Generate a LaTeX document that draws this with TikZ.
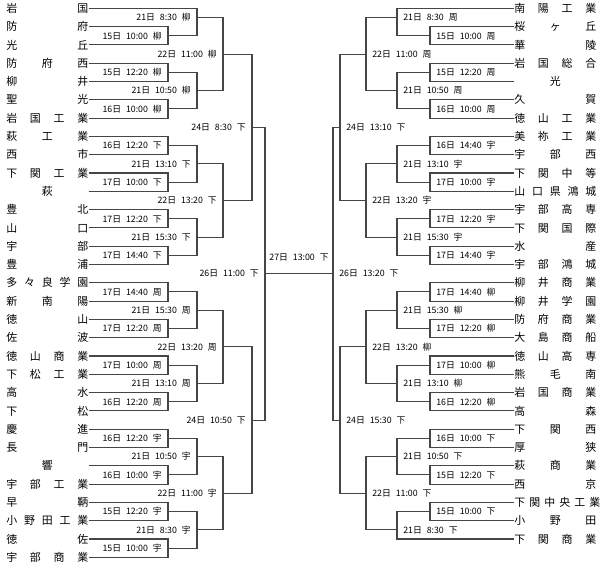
\documentclass[tikz,border=0pt]{standalone}
\usepackage{fontspec}
\usepackage{xcolor}
\usepackage{tikz}
\setmainfont{Noto Sans CJK JP}
\newfontfamily\teamfont{Noto Sans CJK JP}
\newfontfamily\gamefont[WordSpace=2.5]{Noto Sans CJK JP}
\definecolor{bracketgray}{RGB}{70,70,70}
\newcommand{\rowy}[1]{{8.3+18.3*(#1-1)}}
\newcommand{\tn}[1]{\makebox[61.5pt][s]{#1}}

\begin{document}
\begin{tikzpicture}[
    x=0.75pt, y=-0.75pt,
    team/.style={anchor=west,inner sep=0pt,font=\teamfont\fontsize{8.2}{9}\selectfont,text height=6.8pt,text depth=0.6pt},
    game/.style={inner xsep=4.5pt,inner ysep=0pt,font=\gamefont\fontsize{6.6}{8}\selectfont,text height=5.5pt,text depth=0.5pt},
    lblL/.style={game,anchor=east},
    lblR/.style={game,anchor=west},
    bracket/.style={draw=bracketgray,line width=0.8pt}
]
\useasboundingbox (0,0) rectangle (600,569);

% left block
\node[team] (lt1) at (6,\rowy{1}) {\tn{岩 国}};
\node[team] (lt2) at (6,\rowy{2}) {\tn{防 府}};
\node[team] (lt3) at (6,\rowy{3}) {\tn{光 丘}};
\node[team] (lt4) at (6,\rowy{4}) {\tn{防 府 西}};
\node[team] (lt5) at (6,\rowy{5}) {\tn{柳 井}};
\node[team] (lt6) at (6,\rowy{6}) {\tn{聖 光}};
\node[team] (lt7) at (6,\rowy{7}) {\tn{岩 国 工 業}};
\node[team] (lt8) at (6,\rowy{8}) {\tn{萩 工 業}};
\node[team] (lt9) at (6,\rowy{9}) {\tn{西 市}};
\node[team] (lt10) at (6,\rowy{10}) {\tn{下 関 工 業}};
\node[team] (lt11) at (6,\rowy{11}) {\tn{\hfill 萩\hfill}};
\node[team] (lt12) at (6,\rowy{12}) {\tn{豊 北}};
\node[team] (lt13) at (6,\rowy{13}) {\tn{山 口}};
\node[team] (lt14) at (6,\rowy{14}) {\tn{宇 部}};
\node[team] (lt15) at (6,\rowy{15}) {\tn{豊 浦}};
\node[team] (lt16) at (6,\rowy{16}) {\tn{多 々 良 学 園}};
\node[team] (lt17) at (6,\rowy{17}) {\tn{新 南 陽}};
\node[team] (lt18) at (6,\rowy{18}) {\tn{徳 山}};
\node[team] (lt19) at (6,\rowy{19}) {\tn{佐 波}};
\node[team] (lt20) at (6,\rowy{20}) {\tn{徳 山 商 業}};
\node[team] (lt21) at (6,\rowy{21}) {\tn{下 松 工 業}};
\node[team] (lt22) at (6,\rowy{22}) {\tn{高 水}};
\node[team] (lt23) at (6,\rowy{23}) {\tn{下 松}};
\node[team] (lt24) at (6,\rowy{24}) {\tn{慶 進}};
\node[team] (lt25) at (6,\rowy{25}) {\tn{長 門}};
\node[team] (lt26) at (6,\rowy{26}) {\tn{\hfill 響\hfill}};
\node[team] (lt27) at (6,\rowy{27}) {\tn{宇 部 工 業}};
\node[team] (lt28) at (6,\rowy{28}) {\tn{早 鞆}};
\node[team] (lt29) at (6,\rowy{29}) {\tn{小 野 田 工 業}};
\node[team] (lt30) at (6,\rowy{30}) {\tn{徳 佐}};
\node[team] (lt31) at (6,\rowy{31}) {\tn{宇 部 商 業}};

% right block
\node[team] (rt1) at (514,\rowy{1}) {\tn{南 陽 工 業}};
\node[team] (rt2) at (514,\rowy{2}) {\tn{桜 ヶ 丘}};
\node[team] (rt3) at (514,\rowy{3}) {\tn{華 陵}};
\node[team] (rt4) at (514,\rowy{4}) {\tn{岩 国 総 合}};
\node[team] (rt5) at (514,\rowy{5}) {\tn{\hfill 光\hfill}};
\node[team] (rt6) at (514,\rowy{6}) {\tn{久 賀}};
\node[team] (rt7) at (514,\rowy{7}) {\tn{徳 山 工 業}};
\node[team] (rt8) at (514,\rowy{8}) {\tn{美 祢 工 業}};
\node[team] (rt9) at (514,\rowy{9}) {\tn{宇 部 西}};
\node[team] (rt10) at (514,\rowy{10}) {\tn{下 関 中 等}};
\node[team] (rt11) at (514,\rowy{11}) {\tn{山 口 県 鴻 城}};
\node[team] (rt12) at (514,\rowy{12}) {\tn{宇 部 高 専}};
\node[team] (rt13) at (514,\rowy{13}) {\tn{下 関 国 際}};
\node[team] (rt14) at (514,\rowy{14}) {\tn{水 産}};
\node[team] (rt15) at (514,\rowy{15}) {\tn{宇 部 鴻 城}};
\node[team] (rt16) at (514,\rowy{16}) {\tn{柳 井 商 業}};
\node[team] (rt17) at (514,\rowy{17}) {\tn{柳 井 学 園}};
\node[team] (rt18) at (514,\rowy{18}) {\tn{防 府 商 業}};
\node[team] (rt19) at (514,\rowy{19}) {\tn{大 島 商 船}};
\node[team] (rt20) at (514,\rowy{20}) {\tn{徳 山 高 専}};
\node[team] (rt21) at (514,\rowy{21}) {\tn{熊 毛 南}};
\node[team] (rt22) at (514,\rowy{22}) {\tn{岩 国 商 業}};
\node[team] (rt23) at (514,\rowy{23}) {\tn{高 森}};
\node[team] (rt24) at (514,\rowy{24}) {\tn{下 関 西}};
\node[team] (rt25) at (514,\rowy{25}) {\tn{厚 狭}};
\node[team] (rt26) at (514,\rowy{26}) {\tn{萩 商 業}};
\node[team] (rt27) at (514,\rowy{27}) {\tn{西 京}};
\node[team] (rt28) at (514,\rowy{28}) {\tn{下 関 中 央 工 業}};
\node[team] (rt29) at (514,\rowy{29}) {\tn{小 野 田}};
\node[team] (rt30) at (514,\rowy{30}) {\tn{下 関 商 業}};

% left games
\node[lblL] (lm1) at (197,\rowy{1.5}) {21日 8:30 柳};
\node[lblL] (lm2) at (168,\rowy{2.5}) {15日 10:00 柳};
\node[lblL] (lm3) at (223,\rowy{3.5}) {22日 11:00 柳};
\node[lblL] (lm4) at (168,\rowy{4.5}) {15日 12:20 柳};
\node[lblL] (lm5) at (197,\rowy{5.5}) {21日 10:50 柳};
\node[lblL] (lm6) at (168,\rowy{6.5}) {16日 10:00 柳};
\node[lblL] (lm7) at (252,\rowy{7.5}) {24日 8:30 下};
\node[lblL] (lm8) at (168,\rowy{8.5}) {16日 12:20 下};
\node[lblL] (lm9) at (197,\rowy{9.5}) {21日 13:10 下};
\node[lblL] (lm10) at (168,\rowy{10.5}) {17日 10:00 下};
\node[lblL] (lm11) at (223,\rowy{11.5}) {22日 13:20 下};
\node[lblL] (lm12) at (168,\rowy{12.5}) {17日 12:20 下};
\node[lblL] (lm13) at (197,\rowy{13.5}) {21日 15:30 下};
\node[lblL] (lm14) at (168,\rowy{14.5}) {17日 14:40 下};
\node[lblL] (lm15) at (265,\rowy{15.5}) {26日 11:00 下};
\node[lblL] (lm16) at (168,\rowy{16.5}) {17日 14:40 周};
\node[lblL] (lm17) at (197,\rowy{17.5}) {21日 15:30 周};
\node[lblL] (lm18) at (168,\rowy{18.5}) {17日 12:20 周};
\node[lblL] (lm19) at (223,\rowy{19.5}) {22日 13:20 周};
\node[lblL] (lm20) at (168,\rowy{20.5}) {17日 10:00 周};
\node[lblL] (lm21) at (197,\rowy{21.5}) {21日 13:10 周};
\node[lblL] (lm22) at (168,\rowy{22.5}) {16日 12:20 周};
\node[lblL] (lm23) at (252,\rowy{23.5}) {24日 10:50 下};
\node[lblL] (lm24) at (168,\rowy{24.5}) {16日 12:20 宇};
\node[lblL] (lm25) at (197,\rowy{25.5}) {21日 10:50 宇};
\node[lblL] (lm26) at (168,\rowy{26.5}) {16日 10:00 宇};
\node[lblL] (lm27) at (223,\rowy{27.5}) {22日 11:00 宇};
\node[lblL] (lm28) at (168,\rowy{28.5}) {15日 12:20 宇};
\node[lblL] (lm29) at (197,\rowy{29.5}) {21日 8:30 宇};
\node[lblL] (lm30) at (168,\rowy{30.5}) {15日 10:00 宇};

% right games
\node[lblR] (rm1) at (397,\rowy{1.5}) {21日 8:30 周};
\node[lblR] (rm2) at (430,\rowy{2.5}) {15日 10:00 周};
\node[lblR] (rm3) at (366,\rowy{3.5}) {22日 11:00 周};
\node[lblR] (rm4) at (430,\rowy{4.5}) {15日 12:20 周};
\node[lblR] (rm5) at (397,\rowy{5.5}) {21日 10:50 周};
\node[lblR] (rm6) at (430,\rowy{6.5}) {16日 10:00 周};
\node[lblR] (rm7) at (340,\rowy{7.5}) {24日 13:10 下};
\node[lblR] (rm8) at (430,\rowy{8.5}) {16日 14:40 宇};
\node[lblR] (rm9) at (397,\rowy{9.5}) {21日 13:10 宇};
\node[lblR] (rm10) at (430,\rowy{10.5}) {17日 10:00 宇};
\node[lblR] (rm11) at (366,\rowy{11.5}) {22日 13:20 宇};
\node[lblR] (rm12) at (430,\rowy{12.5}) {17日 12:20 宇};
\node[lblR] (rm13) at (397,\rowy{13.5}) {21日 15:30 宇};
\node[lblR] (rm14) at (430,\rowy{14.5}) {17日 14:40 宇};
\node[lblR] (rm15) at (333,\rowy{15.5}) {26日 13:20 下};
\node[lblR] (rm16) at (430,\rowy{16.5}) {17日 14:40 柳};
\node[lblR] (rm17) at (397,\rowy{17.5}) {21日 15:30 柳};
\node[lblR] (rm18) at (430,\rowy{18.5}) {17日 12:20 柳};
\node[lblR] (rm19) at (366,\rowy{19.5}) {22日 13:20 柳};
\node[lblR] (rm20) at (430,\rowy{20.5}) {17日 10:00 柳};
\node[lblR] (rm21) at (397,\rowy{21.5}) {21日 13:10 柳};
\node[lblR] (rm22) at (430,\rowy{22.5}) {16日 12:20 柳};
\node[lblR] (rm23) at (340,\rowy{23.5}) {24日 15:30 下};
\node[lblR] (rm24) at (430,\rowy{24.5}) {16日 10:00 下};
\node[lblR] (rm25) at (397,\rowy{25.5}) {21日 10:50 下};
\node[lblR] (rm26) at (430,\rowy{26.5}) {15日 12:20 下};
\node[lblR] (rm27) at (366,\rowy{27.5}) {22日 11:00 下};
\node[lblR] (rm28) at (430,\rowy{28.5}) {15日 10:00 下};
\node[lblR] (rm29) at (397,\rowy{29.5}) {21日 8:30 下};

% final
\node[game] (fin) at (299,\rowy{14.6}) {27日 13:00 下};

% left bracket
\draw[bracket] (lt2.east) -| (lm2.east) (lt3.east) -| (lm2.east);
\draw[bracket] (lt1.east) -| (lm1.east) (lm2.east) -| (lm1.east);
\draw[bracket] (lt4.east) -| (lm4.east) (lt5.east) -| (lm4.east);
\draw[bracket] (lt6.east) -| (lm6.east) (lt7.east) -| (lm6.east);
\draw[bracket] (lm4.east) -| (lm5.east) (lm6.east) -| (lm5.east);
\draw[bracket] (lm1.east) -| (lm3.east) (lm5.east) -| (lm3.east);
\draw[bracket] (lt8.east) -| (lm8.east) (lt9.east) -| (lm8.east);
\draw[bracket] (lt10.east) -| (lm10.east) (lt11.east) -| (lm10.east);
\draw[bracket] (lm8.east) -| (lm9.east) (lm10.east) -| (lm9.east);
\draw[bracket] (lt12.east) -| (lm12.east) (lt13.east) -| (lm12.east);
\draw[bracket] (lt14.east) -| (lm14.east) (lt15.east) -| (lm14.east);
\draw[bracket] (lm12.east) -| (lm13.east) (lm14.east) -| (lm13.east);
\draw[bracket] (lm9.east) -| (lm11.east) (lm13.east) -| (lm11.east);
\draw[bracket] (lm3.east) -| (lm7.east) (lm11.east) -| (lm7.east);
\draw[bracket] (lt16.east) -| (lm16.east) (lt17.east) -| (lm16.east);
\draw[bracket] (lt18.east) -| (lm18.east) (lt19.east) -| (lm18.east);
\draw[bracket] (lm16.east) -| (lm17.east) (lm18.east) -| (lm17.east);
\draw[bracket] (lt20.east) -| (lm20.east) (lt21.east) -| (lm20.east);
\draw[bracket] (lt22.east) -| (lm22.east) (lt23.east) -| (lm22.east);
\draw[bracket] (lm20.east) -| (lm21.east) (lm22.east) -| (lm21.east);
\draw[bracket] (lm17.east) -| (lm19.east) (lm21.east) -| (lm19.east);
\draw[bracket] (lt24.east) -| (lm24.east) (lt25.east) -| (lm24.east);
\draw[bracket] (lt26.east) -| (lm26.east) (lt27.east) -| (lm26.east);
\draw[bracket] (lm24.east) -| (lm25.east) (lm26.east) -| (lm25.east);
\draw[bracket] (lt28.east) -| (lm28.east) (lt29.east) -| (lm28.east);
\draw[bracket] (lt30.east) -| (lm30.east) (lt31.east) -| (lm30.east);
\draw[bracket] (lm28.east) -| (lm29.east) (lm30.east) -| (lm29.east);
\draw[bracket] (lm25.east) -| (lm27.east) (lm29.east) -| (lm27.east);
\draw[bracket] (lm19.east) -| (lm23.east) (lm27.east) -| (lm23.east);
\draw[bracket] (lm7.east) -| (lm15.east) (lm23.east) -| (lm15.east);

% right bracket
\draw[bracket] (rt2.west) -| (rm2.west) (rt3.west) -| (rm2.west);
\draw[bracket] (rt1.west) -| (rm1.west) (rm2.west) -| (rm1.west);
\draw[bracket] (rt4.west) -| (rm4.west) (rt5.west) -| (rm4.west);
\draw[bracket] (rt6.west) -| (rm6.west) (rt7.west) -| (rm6.west);
\draw[bracket] (rm4.west) -| (rm5.west) (rm6.west) -| (rm5.west);
\draw[bracket] (rm1.west) -| (rm3.west) (rm5.west) -| (rm3.west);
\draw[bracket] (rt8.west) -| (rm8.west) (rt9.west) -| (rm8.west);
\draw[bracket] (rt10.west) -| (rm10.west) (rt11.west) -| (rm10.west);
\draw[bracket] (rm8.west) -| (rm9.west) (rm10.west) -| (rm9.west);
\draw[bracket] (rt12.west) -| (rm12.west) (rt13.west) -| (rm12.west);
\draw[bracket] (rt14.west) -| (rm14.west) (rt15.west) -| (rm14.west);
\draw[bracket] (rm12.west) -| (rm13.west) (rm14.west) -| (rm13.west);
\draw[bracket] (rm9.west) -| (rm11.west) (rm13.west) -| (rm11.west);
\draw[bracket] (rm3.west) -| (rm7.west) (rm11.west) -| (rm7.west);
\draw[bracket] (rt16.west) -| (rm16.west) (rt17.west) -| (rm16.west);
\draw[bracket] (rt18.west) -| (rm18.west) (rt19.west) -| (rm18.west);
\draw[bracket] (rm16.west) -| (rm17.west) (rm18.west) -| (rm17.west);
\draw[bracket] (rt20.west) -| (rm20.west) (rt21.west) -| (rm20.west);
\draw[bracket] (rt22.west) -| (rm22.west) (rt23.west) -| (rm22.west);
\draw[bracket] (rm20.west) -| (rm21.west) (rm22.west) -| (rm21.west);
\draw[bracket] (rm17.west) -| (rm19.west) (rm21.west) -| (rm19.west);
\draw[bracket] (rt24.west) -| (rm24.west) (rt25.west) -| (rm24.west);
\draw[bracket] (rt26.west) -| (rm26.west) (rt27.west) -| (rm26.west);
\draw[bracket] (rm24.west) -| (rm25.west) (rm26.west) -| (rm25.west);
\draw[bracket] (rt28.west) -| (rm28.west) (rt29.west) -| (rm28.west);
\draw[bracket] (rm28.west) -| (rm29.west) (rt30.west) -| (rm29.west);
\draw[bracket] (rm25.west) -| (rm27.west) (rm29.west) -| (rm27.west);
\draw[bracket] (rm19.west) -| (rm23.west) (rm27.west) -| (rm23.west);
\draw[bracket] (rm7.west) -| (rm15.west) (rm23.west) -| (rm15.west);

% final line
\draw[bracket] (lm15.east) -- (rm15.west);

\end{tikzpicture}
\end{document}
